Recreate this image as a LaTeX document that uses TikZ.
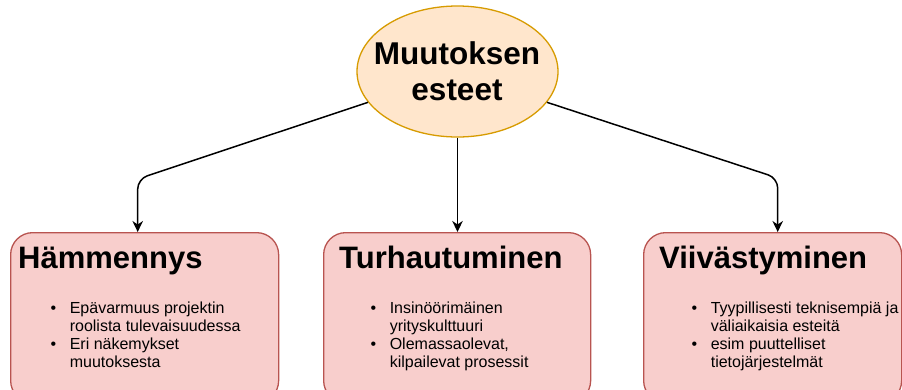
\documentclass[tikz,border=0pt]{standalone}
\usepackage{fontspec}
\setmainfont{Liberation Sans}
\usetikzlibrary{shapes.geometric,arrows.meta}

\definecolor{ellfill}{HTML}{FFE6CC}
\definecolor{elldraw}{HTML}{D79B00}
\definecolor{boxfill}{HTML}{F8CECC}
\definecolor{boxdraw}{HTML}{B85450}

\tikzset{
  rootshape/.style={ellipse, draw=elldraw, fill=ellfill, line width=1.3pt,
    minimum width=201pt, minimum height=131pt, inner sep=0pt},
  roottext/.style={font=\bfseries\fontsize{31.5}{35.7}\selectfont, align=center, inner sep=0pt},
  causebox/.style={draw=boxdraw, fill=boxfill, line width=1.3pt, rounded corners=22pt,
    minimum height=170pt, inner sep=0pt, anchor=north west},
  boxtitle/.style={font=\bfseries\fontsize{31}{36}\selectfont, inner sep=0pt, anchor=base west},
  bullets/.style={font=\fontsize{16}{18.2}\selectfont, inner sep=0pt, anchor=base west},
  flow/.style={draw=black, line width=1.5pt, rounded corners=10pt,
    -{Stealth[length=11pt, width=10.5pt, inset=3.5pt]}}
}

\newcommand{\bulletlist}[4]{%
  \begin{tabular}[t]{@{}l@{\hspace{13.5pt}}l@{}}
    \textbullet & #1\\ & #2\\ \textbullet & #3\\ & #4
  \end{tabular}}

\begin{document}
\begin{tikzpicture}[x=1pt, y=-1pt]
  \useasboundingbox (0,0) rectangle (902,389);
  \clip (0,0) rectangle (902,389);

  % central topic
  \node[rootshape] (root) at (457.5,71.5) {};
  \node[roottext, anchor=base] (rootlabel) at (457,100.5) {Muutoksen\\esteet};

  % the three obstacle boxes
  \node[causebox, minimum width=268pt] (b1) at (10,232) {};
  \node[causebox, minimum width=267pt] (b2) at (323,232) {};
  \node[causebox, minimum width=258pt] (b3) at (643,232) {};

  \node[boxtitle] (t1) at (18,268.3) {Hämmennys};
  \node[boxtitle] (t2) at (339,268.3) {Turhautuminen};
  \node[boxtitle] (t3) at (659,268.3) {Viivästyminen};

  \node[bullets] (l1) at (50.5,313) {\bulletlist{Epävarmuus projektin}{roolista tulevaisuudessa}{Eri näkemykset}{muutoksesta}};
  \node[bullets] (l2) at (370.5,313) {\bulletlist{Insinöörimäinen}{yrityskulttuuri}{Olemassaolevat,}{kilpailevat prosessit}};
  \node[bullets] (l3) at (691.5,313) {\bulletlist{Tyypillisesti teknisempiä ja}{väliaikaisia esteitä}{esim puuttelliset}{tietojärjestelmät}};

  % connectors
  \coordinate (lbend) at (137.7,179);
  \coordinate (rbend) at (777.7,178);
  \draw[flow] (root.199.7) -- (lbend) -- (lbend |- b1.north);
  \draw[flow] (root.south) -- (root.south |- b2.north);
  \draw[flow] (root.341.6) -- (rbend) -- (rbend |- b3.north);
\end{tikzpicture}
\end{document}
